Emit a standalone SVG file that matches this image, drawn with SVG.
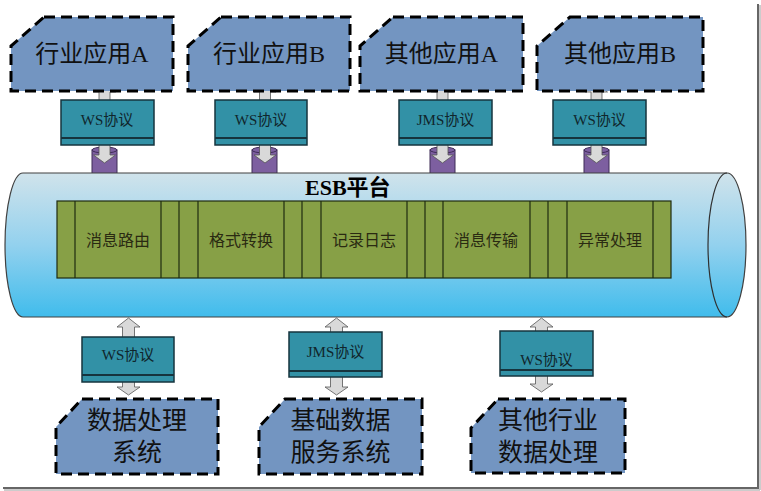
<svg xmlns="http://www.w3.org/2000/svg" width="761" height="491" viewBox="0 0 761 491">
<defs>
<linearGradient id="esbGrad" x1="0" y1="0" x2="0" y2="1">
<stop offset="0" stop-color="#d0e3eb"/>
<stop offset="0.5" stop-color="#93d1ee"/>
<stop offset="1" stop-color="#40bcec"/>
</linearGradient>
<style>
.node{fill:#7395c1;stroke:#000;stroke-width:3;stroke-dasharray:11,6}
.ntxt{font-family:"Liberation Serif","Noto Sans CJK SC",serif;font-size:24px;fill:#111;text-anchor:middle}
.btxt{font-family:"Liberation Serif","Noto Sans CJK SC",serif;font-size:25px;fill:#111;text-anchor:middle}
.proto{fill:#3291a6;stroke:#16343e;stroke-width:1.5}
.pline{stroke:#16343e;stroke-width:2}
.ptxt{font-family:"Liberation Serif","Noto Sans CJK SC",serif;font-size:15px;fill:#10262c;text-anchor:middle}
.arrow{fill:#d9d9d9;stroke:#555;stroke-width:0.8}
.purple{fill:#7d5fa0;stroke:#3f2c57;stroke-width:1}
.cell{fill:#87a046;stroke:#1f2a10;stroke-width:1.2}
.ctxt{font-family:"Noto Sans CJK SC",sans-serif;font-size:16px;fill:#2a2a12;text-anchor:middle}
</style>
</defs>
<rect width="761" height="491" fill="#fff"/>
<line x1="758" y1="4" x2="758" y2="489" stroke="#666" stroke-width="2"/>
<line x1="760" y1="5" x2="760" y2="490" stroke="#bbb" stroke-width="1.5"/>
<line x1="3" y1="488" x2="758" y2="488" stroke="#666" stroke-width="2"/>
<line x1="4" y1="490" x2="760" y2="490" stroke="#bbb" stroke-width="1.5"/>

<g id="purples">
<g><rect class="purple" x="92" y="150" width="25" height="24"/><ellipse class="purple" cx="104.5" cy="150" rx="12.5" ry="3"/></g>
<g><rect class="purple" x="252" y="150" width="25" height="24"/><ellipse class="purple" cx="264.5" cy="150" rx="12.5" ry="3"/></g>
<g><rect class="purple" x="430" y="150" width="25" height="24"/><ellipse class="purple" cx="442.5" cy="150" rx="12.5" ry="3"/></g>
<g><rect class="purple" x="584" y="150" width="25" height="24"/><ellipse class="purple" cx="596.5" cy="150" rx="12.5" ry="3"/></g>
</g>

<g id="esb">
<path d="M23,173 H727 A19,72 0 0 1 727,317 H23 A18,72 0 0 1 23,173 Z" fill="url(#esbGrad)" stroke="#404040" stroke-width="1.2"/>
<path d="M727,173 A19,72 0 0 0 727,317" fill="none" stroke="#303030" stroke-width="1.2"/>
<text x="305" y="195" font-family="Liberation Serif,'Noto Sans CJK SC',serif" font-size="22" font-weight="bold" fill="#000">ESB平台</text>
<g id="cells">
<rect class="cell" x="57" y="201" width="614" height="77"/>
<line class="cell" x1="75" y1="201" x2="75" y2="278"/>
<line class="cell" x1="161" y1="201" x2="161" y2="278"/>
<line class="cell" x1="179" y1="201" x2="179" y2="278"/>
<line class="cell" x1="198" y1="201" x2="198" y2="278"/>
<line class="cell" x1="284" y1="201" x2="284" y2="278"/>
<line class="cell" x1="302" y1="201" x2="302" y2="278"/>
<line class="cell" x1="321" y1="201" x2="321" y2="278"/>
<line class="cell" x1="407" y1="201" x2="407" y2="278"/>
<line class="cell" x1="425" y1="201" x2="425" y2="278"/>
<line class="cell" x1="443" y1="201" x2="443" y2="278"/>
<line class="cell" x1="530" y1="201" x2="530" y2="278"/>
<line class="cell" x1="548" y1="201" x2="548" y2="278"/>
<line class="cell" x1="567" y1="201" x2="567" y2="278"/>
<line class="cell" x1="653" y1="201" x2="653" y2="278"/>
<text class="ctxt" x="118" y="246">消息路由</text>
<text class="ctxt" x="241" y="246">格式转换</text>
<text class="ctxt" x="364" y="246">记录日志</text>
<text class="ctxt" x="486" y="246">消息传输</text>
<text class="ctxt" x="610" y="246">异常处理</text>
</g>
</g>

<g id="connectors">
<path class="arrow" d="M104.5,84 L115.5,92 L110,92 L110,155 L115.5,155 L104.5,163 L93.5,155 L99,155 L99,92 L93.5,92 Z"/>
<path class="arrow" d="M265,84 L276,92 L270.5,92 L270.5,155 L276,155 L265,163 L254,155 L259.5,155 L259.5,92 L254,92 Z"/>
<path class="arrow" d="M442.5,84 L453.5,92 L448,92 L448,155 L453.5,155 L442.5,163 L431.5,155 L437,155 L437,92 L431.5,92 Z"/>
<path class="arrow" d="M596.5,84 L607.5,92 L602,92 L602,155 L607.5,155 L596.5,163 L585.5,155 L591,155 L591,92 L585.5,92 Z"/>
<path class="arrow" d="M128.5,318 L140,327 L134.5,327 L134.5,387 L140,387 L128.5,395 L117,387 L122.5,387 L122.5,327 L117,327 Z"/>
<path class="arrow" d="M336.5,318 L348,327 L342.5,327 L342.5,387 L348,387 L336.5,395 L325,387 L330.5,387 L330.5,327 L325,327 Z"/>
<path class="arrow" d="M541.5,318 L553,327 L547.5,327 L547.5,384 L553,384 L541.5,392 L530,384 L535.5,384 L535.5,327 L530,327 Z"/>
</g>

<g id="p1"><rect class="proto" x="61" y="100" width="93" height="45"/><line class="pline" x1="61" y1="138" x2="154" y2="138"/><text class="ptxt" x="107" y="125">WS协议</text></g>
<g id="p2"><rect class="proto" x="215" y="100" width="92" height="45"/><line class="pline" x1="215" y1="138" x2="307" y2="138"/><text class="ptxt" x="261" y="125">WS协议</text></g>
<g id="p3"><rect class="proto" x="399" y="100" width="93" height="45"/><line class="pline" x1="399" y1="138" x2="492" y2="138"/><text class="ptxt" x="445.5" y="125">JMS协议</text></g>
<g id="p4"><rect class="proto" x="553" y="100" width="93" height="45"/><line class="pline" x1="553" y1="138" x2="646" y2="138"/><text class="ptxt" x="599.5" y="125">WS协议</text></g>
<g id="p5"><rect class="proto" x="82" y="337" width="92" height="45"/><line class="pline" x1="82" y1="375" x2="174" y2="375"/><text class="ptxt" x="128" y="360">WS协议</text></g>
<g id="p6"><rect class="proto" x="289" y="332" width="93" height="45"/><line class="pline" x1="289" y1="371" x2="382" y2="371"/><text class="ptxt" x="335.5" y="357">JMS协议</text></g>
<g id="p7"><rect class="proto" x="500" y="331" width="93" height="45"/><line class="pline" x1="500" y1="370" x2="593" y2="370"/><text class="ptxt" x="546.5" y="365">WS协议</text></g>

<g id="n1"><path class="node" d="M44,17 H173 V91 H11 V46 Z"/><text class="ntxt" x="92" y="62">行业应用A</text></g>
<g id="n2"><path class="node" d="M221,17 H350 V91 H188 V46 Z"/><text class="ntxt" x="269" y="62">行业应用B</text></g>
<g id="n3"><path class="node" d="M393,17 H523 V91 H360 V46 Z"/><text class="ntxt" x="441.5" y="62">其他应用A</text></g>
<g id="n4"><path class="node" d="M570,17 H703 V91 H537 V46 Z"/><text class="ntxt" x="620" y="62">其他应用B</text></g>

<g id="b1"><path class="node" d="M82,399 H218 V474 H56 V427 Z"/><text class="btxt" x="137" y="429">数据处理</text><text class="btxt" x="137" y="461">系统</text></g>
<g id="b2"><path class="node" d="M285,399 H422 V474 H259 V427 Z"/><text class="btxt" x="340.5" y="429">基础数据</text><text class="btxt" x="340.5" y="461">服务系统</text></g>
<g id="b3"><path class="node" d="M498,399 H625 V473 H471 V428 Z"/><text class="btxt" x="548" y="429">其他行业</text><text class="btxt" x="548" y="461">数据处理</text></g>
</svg>
